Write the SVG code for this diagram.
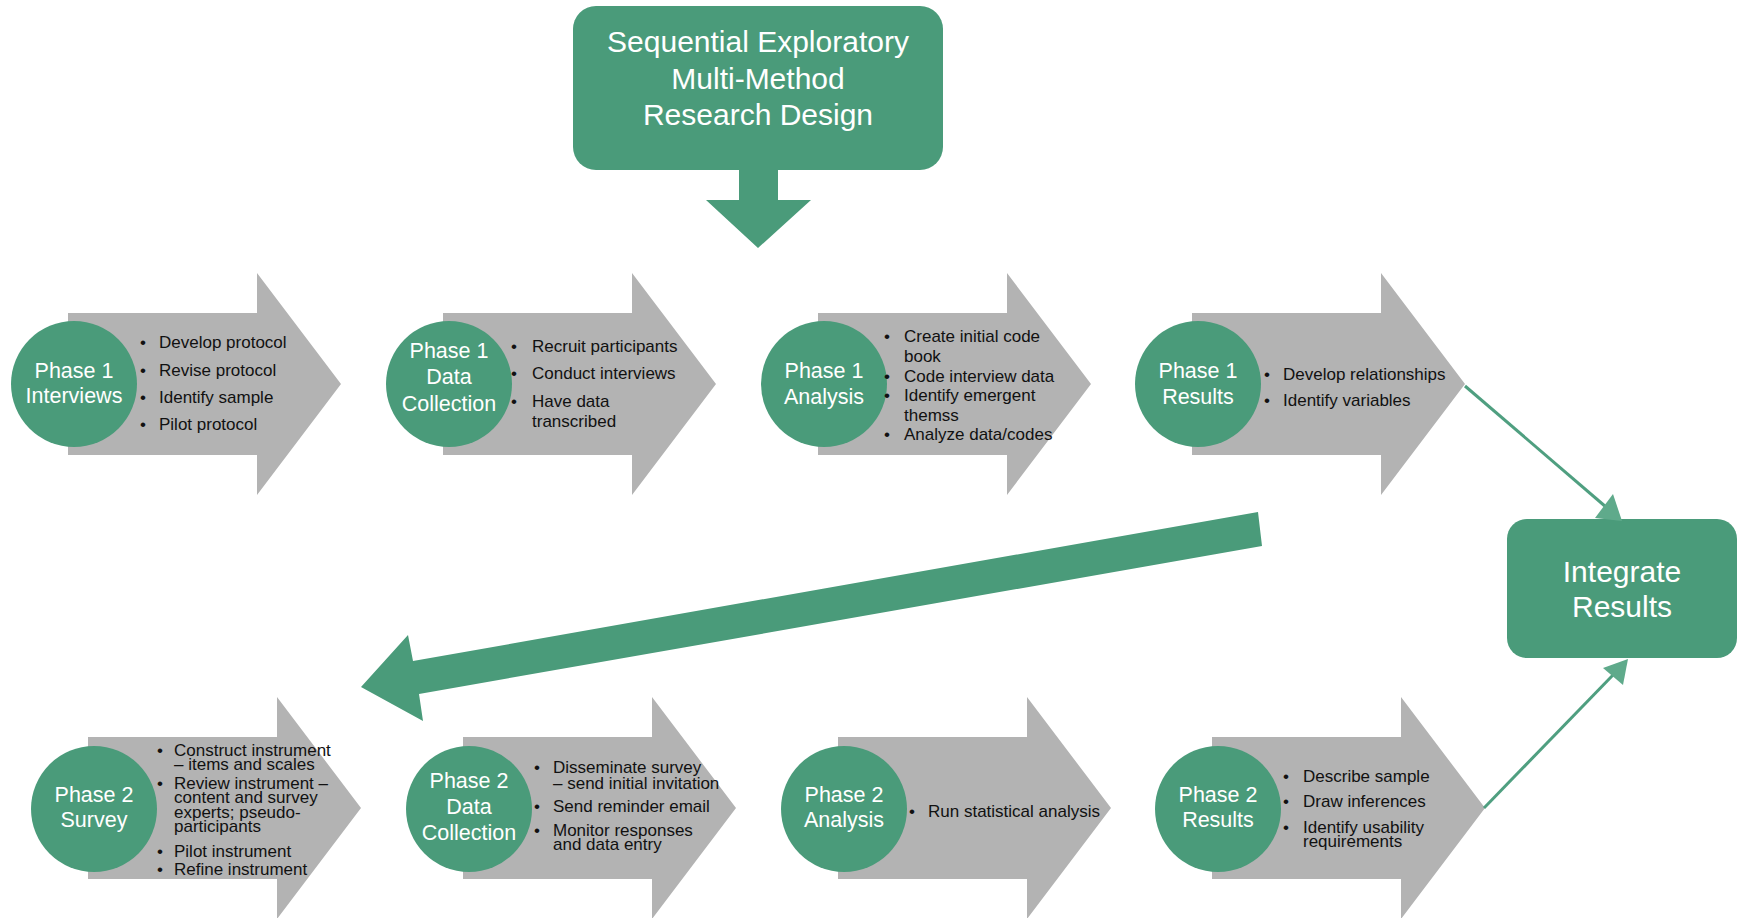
<svg xmlns="http://www.w3.org/2000/svg" xmlns:xlink="http://www.w3.org/1999/xlink" width="1738" height="918" viewBox="0 0 1738 918">
<defs>
<style>
.grey{fill:#b3b3b3}
.green{fill:#4a9b7a}
.ct{font-family:"Liberation Sans",Arial,sans-serif;font-size:21.5px;fill:#ffffff;text-anchor:middle}
.bt{font-family:"Liberation Sans",Arial,sans-serif;font-size:30px;fill:#ffffff;text-anchor:middle}
.tx{font-family:"Liberation Sans",Arial,sans-serif;font-size:17px;fill:#111111}
.bu{font-family:"Liberation Sans",Arial,sans-serif;font-size:17px;fill:#111111;text-anchor:middle}
.conn{stroke:#4f9f80;stroke-width:3;fill:none}
.head{fill:#5faa8b}
</style>
<path id="garrow" d="M0,-71 H189 V-111 L273,0 L189,111 V71 H0 Z"/>
</defs>
<rect width="1738" height="918" fill="#ffffff"/>

<g id="title">
<rect class="green" x="573" y="6" width="370" height="164" rx="23"/>
<text class="bt" x="758" y="52">Sequential Exploratory</text>
<text class="bt" x="758" y="89">Multi-Method</text>
<text class="bt" x="758" y="125">Research Design</text>
<polygon class="green" points="739,169 778,169 778,200 811,200 758,248 706,200 739,200"/>
</g>

<g id="p1-interviews">
<use href="#garrow" class="grey" transform="translate(68,384)"/>
<circle class="green" cx="74" cy="384" r="63"/>
<text class="ct" x="74" y="378">Phase 1</text>
<text class="ct" x="74" y="403">Interviews</text>
<text class="bu" x="143" y="348">•</text><text class="tx" x="159" y="348">Develop protocol</text>
<text class="bu" x="143" y="376">•</text><text class="tx" x="159" y="376">Revise protocol</text>
<text class="bu" x="143" y="403">•</text><text class="tx" x="159" y="403">Identify sample</text>
<text class="bu" x="143" y="430">•</text><text class="tx" x="159" y="430">Pilot protocol</text>
</g>

<g id="p1-data-collection">
<use href="#garrow" class="grey" transform="translate(443,384)"/>
<circle class="green" cx="449" cy="384" r="63"/>
<text class="ct" x="449" y="358">Phase 1</text>
<text class="ct" x="449" y="384">Data</text>
<text class="ct" x="449" y="411">Collection</text>
<text class="bu" x="514" y="352">•</text><text class="tx" x="532" y="352">Recruit participants</text>
<text class="bu" x="514" y="379">•</text><text class="tx" x="532" y="379">Conduct interviews</text>
<text class="bu" x="514" y="407">•</text><text class="tx" x="532" y="407">Have data</text>
<text class="tx" x="532" y="427">transcribed</text>
</g>

<g id="p1-analysis">
<use href="#garrow" class="grey" transform="translate(818,384)"/>
<circle class="green" cx="824" cy="384" r="63"/>
<text class="ct" x="824" y="378">Phase 1</text>
<text class="ct" x="824" y="404">Analysis</text>
<text class="bu" x="887" y="342">•</text><text class="tx" x="904" y="342">Create initial code</text>
<text class="tx" x="904" y="362">book</text>
<text class="bu" x="887" y="382">•</text><text class="tx" x="904" y="382">Code interview data</text>
<text class="bu" x="887" y="401">•</text><text class="tx" x="904" y="401">Identify emergent</text>
<text class="tx" x="904" y="421">themss</text>
<text class="bu" x="887" y="440">•</text><text class="tx" x="904" y="440">Analyze data/codes</text>
</g>

<g id="p1-results">
<use href="#garrow" class="grey" transform="translate(1192,384)"/>
<circle class="green" cx="1198" cy="384" r="63"/>
<text class="ct" x="1198" y="378">Phase 1</text>
<text class="ct" x="1198" y="404">Results</text>
<text class="bu" x="1267" y="380">•</text><text class="tx" x="1283" y="380">Develop relationships</text>
<text class="bu" x="1267" y="406">•</text><text class="tx" x="1283" y="406">Identify variables</text>
</g>

<g id="p2-survey">
<use href="#garrow" class="grey" transform="translate(88,808)"/>
<circle class="green" cx="94" cy="809" r="63"/>
<text class="ct" x="94" y="802">Phase 2</text>
<text class="ct" x="94" y="827">Survey</text>
<text class="bu" x="160" y="756">•</text><text class="tx" x="174" y="756">Construct instrument</text>
<text class="tx" x="174" y="770">– items and scales</text>
<text class="bu" x="160" y="789">•</text><text class="tx" x="174" y="789">Review instrument –</text>
<text class="tx" x="174" y="803">content and survey</text>
<text class="tx" x="174" y="818">experts; pseudo-</text>
<text class="tx" x="174" y="832">participants</text>
<text class="bu" x="160" y="857">•</text><text class="tx" x="174" y="857">Pilot instrument</text>
<text class="bu" x="160" y="875">•</text><text class="tx" x="174" y="875">Refine instrument</text>
</g>

<g id="p2-data-collection">
<use href="#garrow" class="grey" transform="translate(463,808)"/>
<circle class="green" cx="469" cy="809" r="63"/>
<text class="ct" x="469" y="788">Phase 2</text>
<text class="ct" x="469" y="814">Data</text>
<text class="ct" x="469" y="840">Collection</text>
<text class="bu" x="537" y="773">•</text><text class="tx" x="553" y="773">Disseminate survey</text>
<text class="tx" x="553" y="789">– send initial invitation</text>
<text class="bu" x="537" y="812">•</text><text class="tx" x="553" y="812">Send reminder email</text>
<text class="bu" x="537" y="836">•</text><text class="tx" x="553" y="836">Monitor responses</text>
<text class="tx" x="553" y="850">and data entry</text>
</g>

<g id="p2-analysis">
<use href="#garrow" class="grey" transform="translate(838,808)"/>
<circle class="green" cx="844" cy="809" r="63"/>
<text class="ct" x="844" y="802">Phase 2</text>
<text class="ct" x="844" y="827">Analysis</text>
<text class="bu" x="912" y="817">•</text><text class="tx" x="928" y="817">Run statistical analysis</text>
</g>

<g id="p2-results">
<use href="#garrow" class="grey" transform="translate(1212,808)"/>
<circle class="green" cx="1218" cy="809" r="63"/>
<text class="ct" x="1218" y="802">Phase 2</text>
<text class="ct" x="1218" y="827">Results</text>
<text class="bu" x="1286" y="782">•</text><text class="tx" x="1303" y="782">Describe sample</text>
<text class="bu" x="1286" y="807">•</text><text class="tx" x="1303" y="807">Draw inferences</text>
<text class="bu" x="1286" y="833">•</text><text class="tx" x="1303" y="833">Identify usability</text>
<text class="tx" x="1303" y="847">requirements</text>
</g>

<g id="integrate">
<rect class="green" x="1507" y="519" width="230" height="139" rx="20"/>
<text class="bt" x="1622" y="582">Integrate</text>
<text class="bt" x="1622" y="617">Results</text>
</g>

<g id="connectors">
<polygon class="green" points="1258,512 1262,546 419,694 423,721 361,687 408,635 413,661"/>
<line class="conn" x1="1465" y1="386" x2="1606" y2="507"/>
<polygon class="head" points="1595,518 1622,521 1613,494"/>
<line class="conn" x1="1484" y1="808" x2="1613" y2="675"/>
<polygon class="head" points="1603,668 1628,659 1623,685"/>
</g>
</svg>
